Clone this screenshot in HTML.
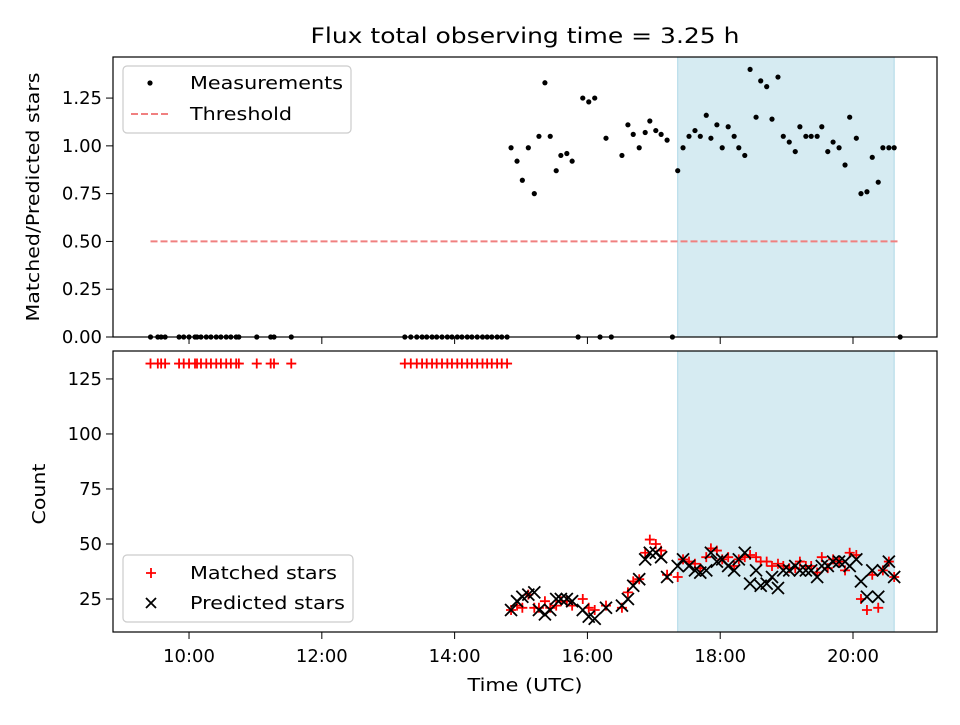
<!DOCTYPE html>
<html><head><meta charset="utf-8"><style>
body{margin:0;background:#fff}
svg{font-family:"DejaVu Sans","Liberation Sans",sans-serif}
</style></head><body>
<svg id="chart" width="960" height="720" viewBox="0 0 960 720" xmlns="http://www.w3.org/2000/svg"></svg>
<script>
const measTimes=[14.85,14.94,15.02,15.11,15.20,15.27,15.36,15.44,15.53,15.60,15.69,15.77,15.93,16.02,16.11,16.28,16.52,16.61,16.69,16.78,16.87,16.94,17.03,17.11,17.20,17.36,17.44,17.53,17.62,17.70,17.79,17.86,17.95,18.03,18.12,18.21,18.28,18.37,18.45,18.54,18.61,18.70,18.78,18.87,18.95,19.04,19.13,19.20,19.29,19.37,19.46,19.53,19.62,19.70,19.79,19.88,19.95,20.05,20.12,20.21,20.29,20.38,20.45,20.54,20.62];
const ratios=[0.99,0.92,0.82,0.99,0.75,1.05,1.33,1.05,0.87,0.95,0.96,0.92,1.25,1.23,1.25,1.04,0.95,1.11,1.06,0.99,1.07,1.13,1.08,1.06,1.03,0.87,0.99,1.05,1.08,1.05,1.16,1.04,1.11,0.99,1.10,1.05,0.99,0.95,1.40,1.15,1.34,1.31,1.14,1.36,1.05,1.02,0.97,1.10,1.05,1.05,1.05,1.10,0.97,1.02,0.99,0.90,1.15,1.04,0.75,0.76,0.94,0.81,0.99,0.99,0.99];
const predicted=[20,24,26,27,28,20,18,20,25,25,25,24,20,17,16,21,22,25,31,34,43,46,46,44,35,40,43,40,38,37,38,46,42,43,40,38,43,46,32,38,31,32,35,30,38,38,40,38,38,38,35,40,40,42,42,42,40,43,33,26,38,26,38,42,35];
const matched=[20,22,21,27,21,21,24,21,22,24,24,22,25,21,20,22,21,28,33,34,46,52,50,47,36,35,43,42,41,39,44,48,47,43,44,40,43,44,45,44,42,42,40,41,40,39,39,42,40,40,37,44,39,43,42,38,46,45,25,20,36,21,38,42,35];
const zeroTimes=[9.42,9.53,9.58,9.64,9.85,9.92,10.00,10.09,10.12,10.18,10.26,10.33,10.41,10.48,10.56,10.63,10.71,10.75,11.02,11.23,11.28,11.54,13.25,13.34,13.43,13.51,13.58,13.66,13.73,13.81,13.89,13.96,14.04,14.11,14.19,14.26,14.34,14.42,14.49,14.56,14.64,14.71,14.79];
const zeroMatched=132;
const extraZeroTimes=[15.86,16.19,16.36,17.28,20.71];
const shade=[17.36,20.62];
const threshold=0.5;
const thresholdSpan=[9.42,20.71];
const xTicks=[10,12,14,16,18,20];
const xTickLabels=["10:00","12:00","14:00","16:00","18:00","20:00"];
const topTicks=[0,0.25,0.5,0.75,1.0,1.25];
const topTickLabels=["0.00","0.25","0.50","0.75","1.00","1.25"];
const botTicks=[25,50,75,100,125];
const botTickLabels=["25","50","75","100","125"];

const NS="http://www.w3.org/2000/svg";
const svg=document.getElementById('chart');
function el(tag,attrs,parent){const e=document.createElementNS(NS,tag);for(const k in attrs)e.setAttribute(k,attrs[k]);(parent||svg).appendChild(e);return e;}
const L=113,R=937;
const X0=8.855,X1=21.265;
const xs=t=>L+(t-X0)/(X1-X0)*(R-L);
const T0=57,T1=337,B0=351,B1=632;
const yTop=v=>T1-(v-0)/(1.4649)*(T1-T0);
const yBot=v=>B1-(v-10)/(137.7-10)*(B1-B0);
const FS=18;

let t=el('text',{x:525,y:43,'text-anchor':'middle','font-size':21,textLength:429,lengthAdjust:'spacingAndGlyphs'});

t.textContent='Flux total observing time = 3.25 h';

function panel(y0,y1,name){
  const g=el('g',{});
  
  const sh=el('rect',{x:xs(shade[0]),y:y0,width:xs(shade[1])-xs(shade[0]),height:y1-y0,fill:'#add8e6','fill-opacity':0.5,stroke:'#add8e6','stroke-width':1},g);
  
  return g;
}
function frame(y0,y1,g){
  el('rect',{x:L,y:y0,width:R-L,height:y1-y0,fill:'none',stroke:'#000','stroke-width':1.2},g);
}
const gt=panel(T0,T1,'ratio-panel');
const th=el('line',{x1:xs(thresholdSpan[0]),x2:xs(thresholdSpan[1]),y1:yTop(threshold),y2:yTop(threshold),stroke:'#f08080','stroke-width':2,'stroke-dasharray':'7,3'},gt);

function dot(x,y,g){const c=el('circle',{cx:x,cy:y,r:2.6,fill:'#000'},g);}
measTimes.forEach((tt,i)=>dot(xs(tt),yTop(ratios[i]),gt));
zeroTimes.concat(extraZeroTimes).forEach(tt=>dot(xs(tt),yTop(0),gt));
frame(T0,T1,gt);
topTicks.forEach((v,i)=>{const y=yTop(v);el('line',{x1:L-7,x2:L,y1:y,y2:y,stroke:'#000'},gt);
 const tx=el('text',{x:L-11,y:y+6,'text-anchor':'end','font-size':FS},gt);tx.textContent=topTickLabels[i];});
xTicks.forEach(v=>{const x=xs(v);el('line',{x1:x,x2:x,y1:T1,y2:T1+7,stroke:'#000'},gt);});
let yl=el('text',{x:39,y:197,'text-anchor':'middle','font-size':FS,textLength:249,lengthAdjust:'spacingAndGlyphs',transform:'rotate(-90 39 197)'},gt);
yl.textContent='Matched/Predicted stars';

const gb=panel(B0,B1,'count-panel');
function plus(x,y,g){const p=el('path',{d:`M${x-5},${y}H${x+5}M${x},${y-5}V${y+5}`,stroke:'#f00','stroke-width':1.8,fill:'none'},g);}
function cross(x,y,g){const p=el('path',{d:`M${x-6},${y-6}L${x+6},${y+6}M${x-6},${y+6}L${x+6},${y-6}`,stroke:'#000','stroke-width':1.8,fill:'none'},g);}
zeroTimes.forEach(tt=>plus(xs(tt),yBot(zeroMatched),gb));
measTimes.forEach((tt,i)=>plus(xs(tt),yBot(matched[i]),gb));
measTimes.forEach((tt,i)=>cross(xs(tt),yBot(predicted[i]),gb));
frame(B0,B1,gb);
botTicks.forEach((v,i)=>{const y=yBot(v);el('line',{x1:L-7,x2:L,y1:y,y2:y,stroke:'#000'},gb);
 const tx=el('text',{x:L-11,y:y+6,'text-anchor':'end','font-size':FS},gb);tx.textContent=botTickLabels[i];});
xTicks.forEach((v,i)=>{const x=xs(v);el('line',{x1:x,x2:x,y1:B1,y2:B1+7,stroke:'#000'},gb);
 const tx=el('text',{x:x,y:B1+30,'text-anchor':'middle','font-size':FS},gb);tx.textContent=xTickLabels[i];});
let yl2=el('text',{x:45,y:494,'text-anchor':'middle','font-size':FS,textLength:61,lengthAdjust:'spacingAndGlyphs',transform:'rotate(-90 45 494)'},gb);
yl2.textContent='Count';
let xl=el('text',{x:525,y:691,'text-anchor':'middle','font-size':FS,textLength:115,lengthAdjust:'spacingAndGlyphs'},gb);
xl.textContent='Time (UTC)';

function legend(x,y,w,h,name){const g=el('g',{});
 el('rect',{x:x,y:y,width:w,height:h,rx:4,fill:'#fff','fill-opacity':0.8,stroke:'#ccc','stroke-width':1.2},g);return g;}
const lg1=legend(123,66,228,67,'ratio-legend');
el('circle',{cx:150,cy:83,r:2.6,fill:'#000'},lg1);
el('line',{x1:131,x2:171,y1:114,y2:114,stroke:'#f08080','stroke-width':2,'stroke-dasharray':'7,3'},lg1);
let a=el('text',{x:190,y:89,'font-size':FS,textLength:153,lengthAdjust:'spacingAndGlyphs'},lg1);a.textContent='Measurements';
let b=el('text',{x:190,y:120,'font-size':FS,textLength:102,lengthAdjust:'spacingAndGlyphs'},lg1);b.textContent='Threshold';
const lg2=legend(123,555,230,67,'count-legend');
el('path',{d:'M146,573H156M151,568V578',stroke:'#f00','stroke-width':1.8},lg2);
el('path',{d:'M146,598L156,608M146,608L156,598',stroke:'#000','stroke-width':1.8},lg2);
let c=el('text',{x:190,y:579,'font-size':FS,textLength:147,lengthAdjust:'spacingAndGlyphs'},lg2);c.textContent='Matched stars';
let d=el('text',{x:190,y:609,'font-size':FS,textLength:155,lengthAdjust:'spacingAndGlyphs'},lg2);d.textContent='Predicted stars';
</script>
</body></html>
